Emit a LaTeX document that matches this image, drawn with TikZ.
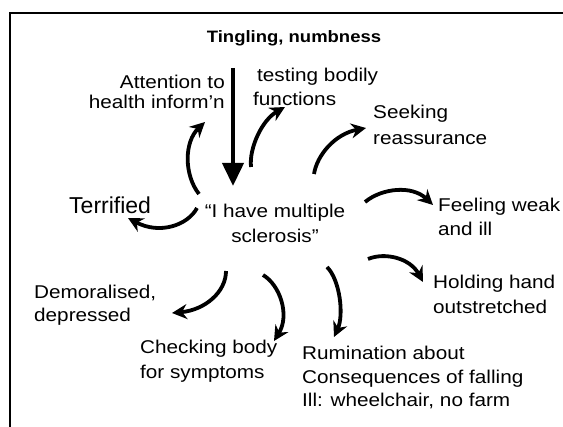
\documentclass[tikz,border=0pt]{standalone}
\usepackage{fontspec}
\setmainfont{Liberation Sans}[FakeStretch=1.12]
\newfontfamily\plainfont{Liberation Sans}
\usetikzlibrary{arrows.meta}
\tikzset{
  lbl/.style={inner sep=0pt, font=\fontsize{18.5}{24}\selectfont},
  curvearrow/.style={line width=3.8pt, -{Stealth[length=15pt,width=15pt,inset=5pt]}},
  framebar/.style={line width=2pt}
}
\begin{document}
\begin{tikzpicture}[x=1pt,y=-1pt]
\useasboundingbox (0,0) rectangle (563,427);
\draw[framebar] (10,427) -- (10,13.5) -- (563,13.5);

% texts
\node[inner sep=0pt, anchor=north, font=\fontsize{16.5}{20}\selectfont\bfseries] (tingle) at (294,30.5) {Tingling, numbness};
\node[lbl, anchor=north east, align=right, font=\fontsize{18.5}{20}\selectfont] (attn) at (225,75) {Attention to\hspace{7pt}\\health inform’n};
\node[lbl, anchor=north west, align=left] (test) at (253,68) {\hspace{4pt}testing bodily\\functions};
\node[lbl, anchor=north west, align=left, font=\fontsize{18.5}{26}\selectfont] (seek) at (373,105) {Seeking\\reassurance};
\node[inner sep=0pt, anchor=north west, font=\plainfont\fontsize{23}{26}\selectfont] (terr) at (69,197) {Terrified};
\node[lbl, anchor=north, align=center, font=\fontsize{18.5}{25}\selectfont] (ms) at (275,204) {“I have multiple\\sclerosis”};
\node[lbl, anchor=north west, align=left] (weak) at (438,198) {Feeling weak\\and ill};
\node[lbl, anchor=north west, align=left, font=\fontsize{18.5}{25}\selectfont] (hold) at (433,275) {Holding hand\\outstretched};
\node[lbl, anchor=north west, align=left, font=\fontsize{18.5}{23}\selectfont] (demo) at (34,285) {Demoralised,\\depressed};
\node[lbl, anchor=north west, align=left, font=\fontsize{18.5}{25}\selectfont] (check) at (140,340) {Checking body\\for symptoms};
\node[lbl, anchor=north west, align=left, font=\fontsize{18.5}{23.5}\selectfont] (rum) at (302,346) {Rumination about\\Consequences of falling\\Ill: wheelchair, no farm};

% arrow end points
\coordinate (t0) at (233,68);   \coordinate (t1) at (233,186);
\coordinate (a0) at (199,194);  \coordinate (a1) at (205,122);
\coordinate (b0) at (251,167);  \coordinate (b1) at (285,107);
\coordinate (c0) at (314,174);  \coordinate (c1) at (366,128);
\coordinate (d0) at (365,202);  \coordinate (d1) at (433,205);
\coordinate (e0) at (368,259);  \coordinate (e1) at (423,282);
\coordinate (f0) at (197,208);  \coordinate (f1) at (128,218);
\coordinate (g0) at (226,271);  \coordinate (g1) at (172,313);
\coordinate (h0) at (263,275);  \coordinate (h1) at (274,341);
\coordinate (i0) at (327,267);  \coordinate (i1) at (334,337);

% main arrow
\draw[line width=4pt, -{Triangle[length=23pt,width=21pt]}] (t0) -- (t1);

% curved arrows
\draw[curvearrow] (a0) .. controls (184,175) and (184,142) .. (a1);
\draw[curvearrow] (b0) .. controls (249,148) and (262,120) .. (b1);
\draw[curvearrow] (c0) .. controls (317,155) and (335,134) .. (c1);
\draw[curvearrow] (d0) .. controls (382,188) and (412,185) .. (d1);
\draw[curvearrow] (e0) .. controls (385,252) and (410,258) .. (e1);
\draw[curvearrow] (f0) .. controls (188,225) and (160,235) .. (f1);
\draw[curvearrow] (g0) .. controls (226,292) and (205,310) .. (g1);
\draw[curvearrow] (h0) .. controls (280,285) and (290,315) .. (h1);
\draw[curvearrow] (i0) .. controls (340,280) and (344,315) .. (i1);
\end{tikzpicture}
\end{document}
